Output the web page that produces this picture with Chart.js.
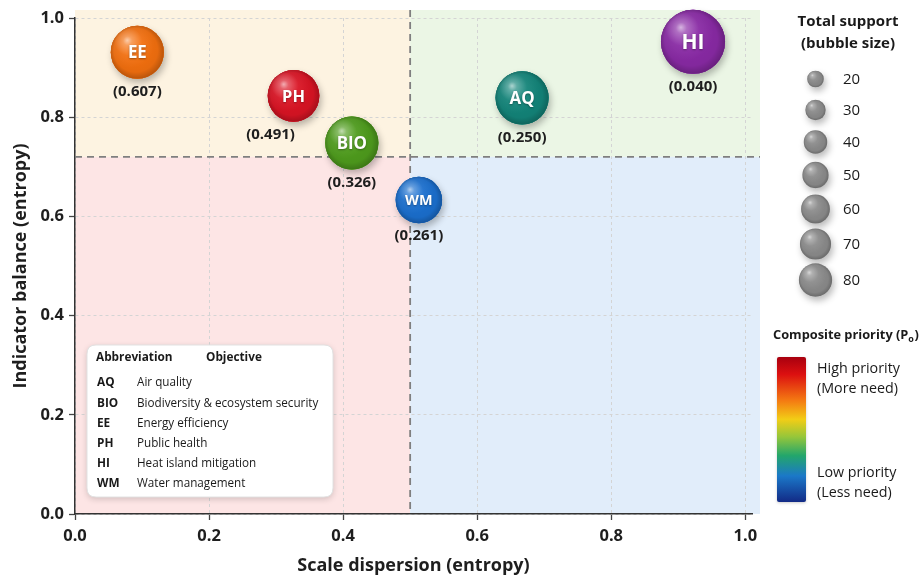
<!DOCTYPE html>
<html>
<head>
<meta charset="utf-8">
<script src="https://cdn.jsdelivr.net/npm/chart.js@4.4.1/dist/chart.umd.min.js"></script>
<style>
  html, body { margin: 0; padding: 0; background: #ffffff; }
  #wrap { width: 919px; height: 577px; }
</style>
</head>
<body>
<div id="wrap"><canvas id="chart" width="919" height="577"></canvas></div>
<script>
// ---- Data -------------------------------------------------------------
const objectives      = ['AQ', 'BIO', 'EE', 'PH', 'HI', 'WM'];
const objectiveNames  = ['Air quality', 'Biodiversity & ecosystem security', 'Energy efficiency',
                         'Public health', 'Heat island mitigation', 'Water management'];
const scaleDispersion = [0.667, 0.413, 0.093, 0.326, 0.922, 0.513];
const indicatorBalance= [0.839, 0.748, 0.931, 0.843, 0.952, 0.633];
const totalSupport    = [55, 55, 55, 52, 80, 42];
const compositePriority = [0.250, 0.326, 0.607, 0.491, 0.040, 0.261];

const dispersionCut = 0.5;
const balanceCut    = 0.72;

const sizeLegendValues = [20, 30, 40, 50, 60, 70, 80];
const xTickValues = [0, 0.2, 0.4, 0.6, 0.8, 1.0];
const yTickValues = [0, 0.2, 0.4, 0.6, 0.8, 1.0];

// ---- Styling ----------------------------------------------------------
const objectiveColors = {
  AQ: '#13857a', BIO: '#4f9d1d', EE: '#f4700f', PH: '#db1424', HI: '#8a2aa6', WM: '#1b70d0'
};
const valueLabelNudge = { PH: -23 };          // keep PH's value clear of BIO
const bubbleScale = 3.58;                      // radius = k * sqrt(support) on the plot
const legendScale = 1.86;                      // radius used in the size key
const FONT = "'Open Sans', 'Noto Sans', sans-serif";

const points = objectives.map((id, i) => ({
  x: scaleDispersion[i],
  y: indicatorBalance[i],
  r: bubbleScale * Math.sqrt(totalSupport[i]),
  id: id,
  priority: compositePriority[i]
}));

// ---- Helpers ----------------------------------------------------------
function sphere(ctx, x, y, r, color, withShadow) {
  ctx.save();
  if (withShadow) {
    ctx.shadowColor = 'rgba(0,0,0,0.28)';
    ctx.shadowBlur = 7;
    ctx.shadowOffsetX = 2;
    ctx.shadowOffsetY = 4;
  }
  ctx.beginPath();
  ctx.arc(x, y, r, 0, Math.PI * 2);
  ctx.fillStyle = color;
  ctx.fill();
  ctx.restore();

  ctx.save();
  ctx.beginPath();
  ctx.arc(x, y, r, 0, Math.PI * 2);
  ctx.clip();
  // darker rim toward the lower right
  let g = ctx.createRadialGradient(x - r * 0.2, y - r * 0.25, r * 0.3, x, y, r * 1.05);
  g.addColorStop(0, 'rgba(0,0,0,0)');
  g.addColorStop(0.7, 'rgba(0,0,0,0.06)');
  g.addColorStop(1, 'rgba(0,0,0,0.28)');
  ctx.fillStyle = g;
  ctx.fillRect(x - r, y - r, 2 * r, 2 * r);
  // glossy highlight on the upper left
  g = ctx.createRadialGradient(x - r * 0.38, y - r * 0.45, 0, x - r * 0.3, y - r * 0.35, r * 0.95);
  g.addColorStop(0, 'rgba(255,255,255,0.65)');
  g.addColorStop(0.18, 'rgba(255,255,255,0.32)');
  g.addColorStop(0.55, 'rgba(255,255,255,0.06)');
  g.addColorStop(1, 'rgba(255,255,255,0)');
  ctx.fillStyle = g;
  ctx.fillRect(x - r, y - r, 2 * r, 2 * r);
  ctx.restore();
}

function roundRect(ctx, x, y, w, h, rad) {
  ctx.beginPath();
  ctx.moveTo(x + rad, y);
  ctx.lineTo(x + w - rad, y);
  ctx.quadraticCurveTo(x + w, y, x + w, y + rad);
  ctx.lineTo(x + w, y + h - rad);
  ctx.quadraticCurveTo(x + w, y + h, x + w - rad, y + h);
  ctx.lineTo(x + rad, y + h);
  ctx.quadraticCurveTo(x, y + h, x, y + h - rad);
  ctx.lineTo(x, y + rad);
  ctx.quadraticCurveTo(x, y, x + rad, y);
  ctx.closePath();
}

// ---- Plugins ----------------------------------------------------------
const quadrantPlugin = {
  id: 'quadrants',
  beforeDraw(chart) {
    const { ctx, chartArea: a, scales: { x, y } } = chart;
    const cx = x.getPixelForValue(dispersionCut);
    const cy = y.getPixelForValue(balanceCut);
    const top = a.top - 8, right = a.right + 8;
    ctx.save();
    ctx.fillStyle = '#fdf3e1'; ctx.fillRect(a.left, top, cx - a.left, cy - top);
    ctx.fillStyle = '#ebf6e5'; ctx.fillRect(cx, top, right - cx, cy - top);
    ctx.fillStyle = '#fde5e5'; ctx.fillRect(a.left, cy, cx - a.left, a.bottom - cy);
    ctx.fillStyle = '#e1edfa'; ctx.fillRect(cx, cy, right - cx, a.bottom - cy);
    ctx.restore();
  },
  beforeDatasetsDraw(chart) {
    const { ctx, chartArea: a, scales: { x, y } } = chart;
    const cx = x.getPixelForValue(dispersionCut);
    const cy = y.getPixelForValue(balanceCut);
    ctx.save();
    ctx.strokeStyle = '#7f7f7f';
    ctx.lineWidth = 1.8;
    ctx.setLineDash([7, 5]);
    ctx.beginPath();
    ctx.moveTo(a.left, cy); ctx.lineTo(a.right + 8, cy);
    ctx.moveTo(cx, a.top - 8); ctx.lineTo(cx, a.bottom);
    ctx.stroke();
    ctx.restore();
    // soft shadows under the bubbles
    const meta = chart.getDatasetMeta(0);
    meta.data.forEach((el, i) => {
      const p = points[i];
      sphere(ctx, el.x, el.y, el.options.radius, objectiveColors[p.id], true);
    });
  },
  afterDatasetsDraw(chart) {
    const { ctx } = chart;
    const meta = chart.getDatasetMeta(0);
    meta.data.forEach((el, i) => {
      const p = points[i];
      const r = el.options.radius;
      sphere(ctx, el.x, el.y, r, objectiveColors[p.id], false);
      ctx.save();
      ctx.fillStyle = '#ffffff';
      ctx.shadowColor = 'rgba(0,0,0,0.35)';
      ctx.shadowBlur = 2;
      ctx.shadowOffsetY = 1;
      ctx.font = `700 ${Math.max(14, r * 0.75 - 3).toFixed(1)}px ${FONT}`;
      ctx.textAlign = 'center';
      ctx.textBaseline = 'middle';
      ctx.fillText(p.id, el.x, el.y + 1);
      ctx.restore();

      ctx.save();
      ctx.fillStyle = '#1e1e1e';
      ctx.font = `700 15px ${FONT}`;
      ctx.textAlign = 'center';
      ctx.textBaseline = 'middle';
      ctx.fillText('(' + p.priority.toFixed(3) + ')', el.x + (valueLabelNudge[p.id] || 0), el.y + r + 13);
      ctx.restore();
    });

    // abbreviation key
    const bx = 87, by = 345, bw = 246, bh = 152;
    ctx.save();
    ctx.shadowColor = 'rgba(0,0,0,0.18)';
    ctx.shadowBlur = 6;
    ctx.shadowOffsetY = 2;
    roundRect(ctx, bx, by, bw, bh, 9);
    ctx.fillStyle = '#ffffff';
    ctx.fill();
    ctx.restore();
    ctx.save();
    roundRect(ctx, bx, by, bw, bh, 9);
    ctx.strokeStyle = '#e2e2e2';
    ctx.lineWidth = 1;
    ctx.stroke();
    ctx.fillStyle = '#1a1a1a';
    ctx.textBaseline = 'middle';
    ctx.font = `700 11.8px ${FONT}`;
    ctx.fillText('Abbreviation', 96, by + 13);
    ctx.fillText('Objective', 206, by + 13);
    objectives.forEach((id, i) => {
      const ry = 383 + i * 20.2;
      ctx.font = `700 11.8px ${FONT}`;
      ctx.fillText(id, 97, ry);
      ctx.font = `400 11.7px ${FONT}`;
      ctx.fillText(objectiveNames[i], 137, ry);
    });
    ctx.restore();
  },
  afterDraw(chart) {
    const { ctx } = chart;
    ctx.save();
    ctx.fillStyle = '#1a1a1a';
    ctx.textAlign = 'center';
    ctx.textBaseline = 'middle';
    ctx.font = `700 15px ${FONT}`;
    ctx.fillText('Total support', 848, 22);
    ctx.fillText('(bubble size)', 848, 44);
    const rows = [79, 110, 142, 175, 209, 244, 280];
    sizeLegendValues.forEach((v, i) => {
      sphere(ctx, 815.5, rows[i], legendScale * Math.sqrt(v), '#8c8c8c', true);
      ctx.fillStyle = '#1a1a1a';
      ctx.textAlign = 'left';
      ctx.font = `400 15px ${FONT}`;
      ctx.fillText(String(v), 843, rows[i] + 1);
    });

    // colour bar for composite priority
    ctx.textAlign = 'left';
    ctx.font = `700 12.8px ${FONT}`;
    const t1 = 'Composite priority (P';
    ctx.fillText(t1, 773, 335);
    const w1 = ctx.measureText(t1).width;
    ctx.font = `700 9px ${FONT}`;
    ctx.fillText('o', 773 + w1, 339);
    const w2 = ctx.measureText('o').width;
    ctx.font = `700 12.8px ${FONT}`;
    ctx.fillText(')', 773 + w1 + w2 + 0.5, 335);

    const gx = 777, gy = 357, gw = 29, gh = 145;
    const g = ctx.createLinearGradient(0, gy, 0, gy + gh);
    g.addColorStop(0.00, '#a8000f');
    g.addColorStop(0.12, '#dc1010');
    g.addColorStop(0.30, '#f47a12');
    g.addColorStop(0.43, '#f2cd16');
    g.addColorStop(0.55, '#96c63a');
    g.addColorStop(0.68, '#23a66b');
    g.addColorStop(0.82, '#1b78c8');
    g.addColorStop(1.00, '#122a86');
    ctx.shadowColor = 'rgba(0,0,0,0.2)';
    ctx.shadowBlur = 3;
    ctx.shadowOffsetY = 1;
    roundRect(ctx, gx, gy, gw, gh, 2);
    ctx.fillStyle = g;
    ctx.fill();
    ctx.shadowColor = 'transparent';
    ctx.fillStyle = '#1a1a1a';
    ctx.font = `400 14.3px ${FONT}`;
    ctx.fillText('High priority', 817, 369);
    ctx.fillText('(More need)', 817, 389);
    ctx.fillText('Low priority', 817, 473);
    ctx.fillText('(Less need)', 817, 493);
    ctx.restore();
  }
};

// ---- Chart ------------------------------------------------------------
Chart.defaults.font.family = FONT;
Chart.defaults.color = '#1e1e1e';

const gridStyle = {
  color: '#d4d4d4',
  lineWidth: 1,
  tickLength: 6,
  tickColor: '#444',
  tickWidth: 1.3,
  tickBorderDash: []
};
const borderStyle = { color: '#333', width: 1.5, dash: [3, 3] };

new Chart(document.getElementById('chart'), {
  type: 'bubble',
  data: {
    datasets: [{
      label: 'Objectives',
      data: points,
      backgroundColor: points.map(p => objectiveColors[p.id]),
      borderWidth: 0,
      hoverBorderWidth: 0,
      clip: false
    }]
  },
  options: {
    responsive: false,
    devicePixelRatio: 1,
    animation: false,
    events: [],
    layout: { autoPadding: false, padding: { top: 18, right: 167, left: 0, bottom: 0 } },
    plugins: { legend: { display: false }, tooltip: { enabled: false } },
    scales: {
      x: {
        type: 'linear',
        min: 0,
        max: 1.01,
        afterBuildTicks: s => { s.ticks = xTickValues.map(v => ({ value: v })); },
        afterFit: s => { s.height = 63; },
        ticks: {
          callback: v => Number(v).toFixed(1),
          font: { size: 16.5, weight: '700' },
          color: '#1e1e1e',
          padding: 6,
          maxRotation: 0
        },
        grid: gridStyle,
        border: borderStyle,
        title: {
          display: true,
          text: 'Scale dispersion (entropy)',
          font: { size: 18, weight: '700' },
          color: '#1e1e1e',
          padding: { top: 0, bottom: 0 }
        }
      },
      y: {
        type: 'linear',
        min: 0,
        max: 1,
        afterBuildTicks: s => { s.ticks = yTickValues.map(v => ({ value: v })); },
        afterFit: s => { s.width = 75; },
        ticks: {
          callback: v => Number(v).toFixed(1),
          font: { size: 16.5, weight: '700' },
          color: '#1e1e1e',
          padding: 5
        },
        grid: gridStyle,
        border: borderStyle,
        title: {
          display: true,
          text: 'Indicator balance (entropy)',
          font: { size: 18, weight: '700' },
          color: '#1e1e1e',
          padding: { top: 10, bottom: 0 }
        }
      }
    }
  },
  plugins: [quadrantPlugin]
});
</script>
</body>
</html>
